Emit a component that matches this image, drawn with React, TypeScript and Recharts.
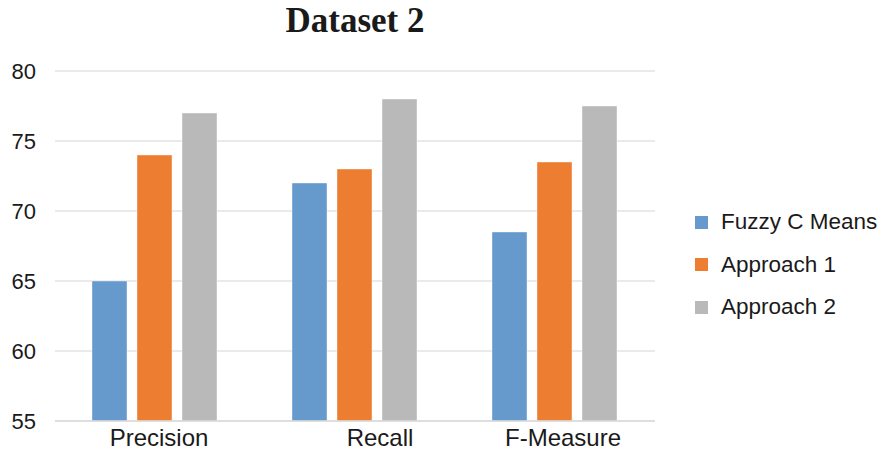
import React from 'react'
import { BarChart, Bar, XAxis, YAxis, CartesianGrid } from 'recharts'

const categories = ['Precision', 'Recall', 'F-Measure']
const fuzzyCMeans = [65, 72, 68.5]
const approach1 = [74, 73, 73.5]
const approach2 = [77, 78, 77.5]
const yTicks = [55, 60, 65, 70, 75, 80]

const series = [
  { key: 'fuzzy', name: 'Fuzzy C Means', color: '#6699CC', values: fuzzyCMeans },
  { key: 'a1', name: 'Approach 1', color: '#ED7D31', values: approach1 },
  { key: 'a2', name: 'Approach 2', color: '#B8B9B8', values: approach2 },
]

const data = categories.map((c, i) => ({
  name: c,
  fuzzy: fuzzyCMeans[i],
  a1: approach1[i],
  a2: approach2[i],
}))

const font = '"Liberation Sans", Arial, Helvetica, sans-serif'

// excel put the category labels a little off-centre
const labelShift = [4, 25, 8]

function CategoryTick(props: any) {
  const { x, y, payload, index } = props
  return (
    <text
      x={x + (labelShift[index] ?? 0)}
      y={y}
      dy="0.72em"
      textAnchor="middle"
      fill="#1a1a1a"
      fontSize={24}
      fontFamily={font}
    >
      {payload.value}
    </text>
  )
}

export default function App() {
  return (
    <div style={{ position: 'fixed', left: 0, top: 0, width: 885, height: 455, background: '#fff' }}>
      <div
        style={{
          position: 'absolute',
          left: 0,
          width: 710,
          top: 1,
          textAlign: 'center',
          fontFamily: '"Liberation Serif", "Times New Roman", serif',
          fontWeight: 'bold',
          fontSize: 35,
          color: '#1a1a1a',
        }}
      >
        Dataset 2
      </div>
      <BarChart
        width={885}
        height={455}
        data={data}
        margin={{ top: 71, right: 230, bottom: 0, left: 0 }}
        barCategoryGap={37}
        barGap={10}
      >
        <CartesianGrid vertical={false} stroke="#E3E3E3" strokeWidth={1.5} />
        <YAxis
          width={55}
          domain={[55, 80]}
          ticks={yTicks}
          axisLine={false}
          tickLine={false}
          tickSize={0}
          tickMargin={19}
          tick={{ fill: '#1a1a1a', fontSize: 22, fontFamily: font }}
          interval={0}
        />
        <XAxis
          dataKey="name"
          height={34}
          axisLine={{ stroke: '#DADADA', strokeWidth: 1.5 }}
          tickLine={false}
          tickSize={0}
          tickMargin={8}
          tick={<CategoryTick />}
          interval={0}
        />
        {series.map(s => (
          <Bar
            key={s.key}
            dataKey={s.key}
            name={s.name}
            fill={s.color}
            stroke="#ffffff"
            strokeOpacity={0.4}
            isAnimationActive={false}
          />
        ))}
      </BarChart>
      <div style={{ position: 'absolute', left: 695, top: 201, fontFamily: font, fontSize: 22.5, color: '#1a1a1a' }}>
        {series.map(s => (
          <div key={s.key} style={{ display: 'flex', alignItems: 'center', height: 42.5 }}>
            <span style={{ display: 'inline-block', width: 13, height: 13, background: s.color, marginRight: 13 }} />
            {s.name}
          </div>
        ))}
      </div>
    </div>
  )
}
